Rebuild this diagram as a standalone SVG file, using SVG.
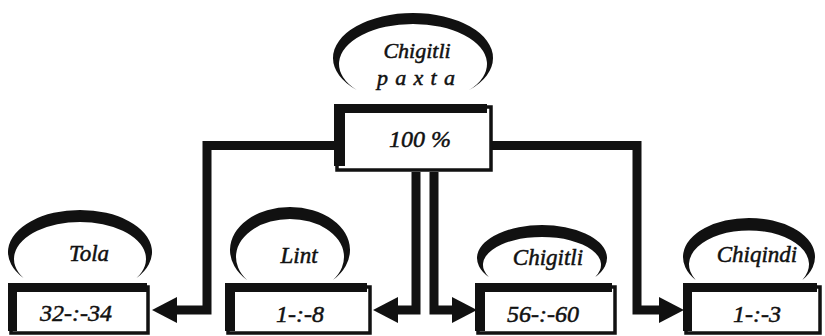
<svg xmlns="http://www.w3.org/2000/svg" width="825" height="336" viewBox="0 0 825 336">
<style>
.lbl{font-family:"Liberation Serif","DejaVu Serif","Times New Roman",Times,serif;font-style:italic;fill:#111;stroke:#111;stroke-width:0.5;text-anchor:middle}
.t23{font-size:23px}
.t24{font-size:24px}
.arc{fill:#111}
.frame{fill:#fff;stroke:#111;stroke-width:3.5}
.bar{fill:#111}
.con{fill:none;stroke:#111;stroke-width:9;stroke-linejoin:miter}
.head{fill:#111}
</style>
<rect width="825" height="336" fill="#fff"/>

<g id="connectors">
  <path class="con" d="M335,145.5 H207 V310 H176"/>
  <polygon class="head" points="177,297 177,323 152,310"/>
  <path class="con" d="M416,172 V310 H397"/>
  <polygon class="head" points="398,297 398,323 373,310"/>
  <path class="con" d="M434,172 V310 H453"/>
  <polygon class="head" points="452,297 452,323 477,310"/>
  <path class="con" d="M492,145.5 H637 V310 H660"/>
  <polygon class="head" points="659,297 659,323 684,310"/>
</g>

<g id="node-paxta">
  <path class="arc" d="M356.8,90 A80,45 0 1 1 469.2,90 A74,40 0 1 0 356.8,90 Z"/>
  <text class="lbl" x="417" y="58" font-size="22">Chigitli</text>
  <text class="lbl" x="416" y="85" font-size="22" textLength="78" lengthAdjust="spacing">p a x t a</text>
  <rect class="frame" x="337" y="107" width="154" height="63"/>
  <rect class="bar" x="334" y="104" width="153" height="9"/>
  <rect class="bar" x="334" y="104" width="11" height="62"/>
  <text class="lbl t24" x="420" y="147">100 %</text>
</g>

<g id="node-tola">
  <path class="arc" d="M23.5,278 A72,42 0 1 1 136.5,278 A66,37 0 1 0 23.5,278 Z"/>
  <text class="lbl t23" x="89" y="261">Tola</text>
  <rect class="frame" x="11" y="287" width="137" height="46"/>
  <rect class="bar" x="8" y="283" width="139" height="9"/>
  <rect class="bar" x="8" y="283" width="9" height="48"/>
  <text class="lbl t24" x="76" y="321">32-:-34</text>
</g>

<g id="node-lint">
  <path class="arc" d="M247,280 A60,43 0 1 1 333,280 A54,38 0 1 0 247,280 Z"/>
  <text class="lbl t23" x="299" y="263">Lint</text>
  <rect class="frame" x="228" y="287" width="142" height="46"/>
  <rect class="bar" x="225" y="283" width="142" height="9"/>
  <rect class="bar" x="225" y="283" width="10" height="48"/>
  <text class="lbl t24" x="300" y="322">1-:-8</text>
</g>

<g id="node-chigitli">
  <path class="arc" d="M488.8,277 A65,33 0 1 1 595.2,277 A59,28 0 1 0 488.8,277 Z"/>
  <text class="lbl t23" x="548" y="265">Chigitli</text>
  <rect class="frame" x="478" y="287" width="137" height="46"/>
  <rect class="bar" x="475" y="283" width="137" height="9"/>
  <rect class="bar" x="475" y="283" width="10" height="48"/>
  <text class="lbl t24" x="543" y="322">56-:-60</text>
</g>

<g id="node-chiqindi">
  <path class="arc" d="M695.7,280 A66,39 0 1 1 802.3,280 A60,34 0 1 0 695.7,280 Z"/>
  <text class="lbl t23" x="757" y="262">Chiqindi</text>
  <rect class="frame" x="686" y="287" width="134" height="46"/>
  <rect class="bar" x="683" y="283" width="134" height="9"/>
  <rect class="bar" x="683" y="283" width="9" height="48"/>
  <text class="lbl t24" x="757" y="322">1-:-3</text>
</g>
</svg>
